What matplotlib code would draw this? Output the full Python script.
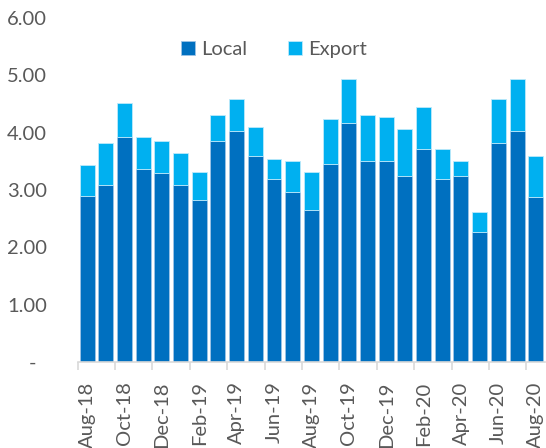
import numpy as np
import matplotlib.pyplot as plt

plt.rcParams['font.family'] = ['Lato', 'DejaVu Sans']

months = ['Aug-18', 'Sep-18', 'Oct-18', 'Nov-18', 'Dec-18', 'Jan-19', 'Feb-19',
          'Mar-19', 'Apr-19', 'May-19', 'Jun-19', 'Jul-19', 'Aug-19', 'Sep-19',
          'Oct-19', 'Nov-19', 'Dec-19', 'Jan-20', 'Feb-20', 'Mar-20', 'Apr-20',
          'May-20', 'Jun-20', 'Jul-20', 'Aug-20']
local = [2.90, 3.08, 3.92, 3.36, 3.29, 3.08, 2.83, 3.85, 4.03, 3.60, 3.19, 2.97,
         2.65, 3.46, 4.17, 3.50, 3.50, 3.25, 3.71, 3.19, 3.25, 2.26, 3.82, 4.03, 2.87]
total = [3.43, 3.82, 4.52, 3.92, 3.85, 3.64, 3.32, 4.31, 4.59, 4.10, 3.54, 3.50,
         3.32, 4.23, 4.94, 4.31, 4.27, 4.06, 4.44, 3.71, 3.50, 2.61, 4.59, 4.94, 3.60]
export = [t - l for t, l in zip(total, local)]

grey = '#595959'
fig = plt.figure(figsize=(5.46, 4.48), dpi=100)
ax = fig.add_axes([0.1423, 0.192, 0.856, 0.768])

x = np.arange(len(months))
ax.bar(x, local, width=0.8, color='#0070C0', edgecolor='#9DC3E6', linewidth=0.6, label='Local')
ax.bar(x, export, width=0.8, bottom=local, color='#00B0F0', edgecolor='#BDE9FA', linewidth=0.6, label='Export')

ax.set_xlim(-0.5, len(months) - 0.5)
ax.set_ylim(0, 6)
ax.set_yticks(np.arange(0, 7))
ax.set_yticklabels(['-  '] + ['%.2f' % v for v in range(1, 7)])
ax.set_xticks(x[::2])
ax.set_xticklabels(months[::2], rotation=90)
ax.set_xticks(np.arange(-0.5, len(months), 2), minor=True)

for s in ['top', 'right', 'left']:
    ax.spines[s].set_visible(False)
ax.spines['bottom'].set_color('#D9D9D9')
ax.spines['bottom'].set_linewidth(1.2)

ax.tick_params(axis='y', length=0, pad=22, labelsize=14.5, labelcolor=grey)
ax.tick_params(axis='x', which='major', length=0, pad=14, labelsize=14.5, labelcolor=grey)
ax.tick_params(axis='x', which='minor', length=6, width=1.2, color='#D9D9D9')

ax.legend(loc='upper center', bbox_to_anchor=(0.42, 0.985), ncol=2, frameon=False,
          fontsize=14.5, labelcolor=grey, handlelength=0.7, handleheight=0.7,
          handletextpad=0.3, columnspacing=2.0)

fig.savefig('out.png', dpi=100)
